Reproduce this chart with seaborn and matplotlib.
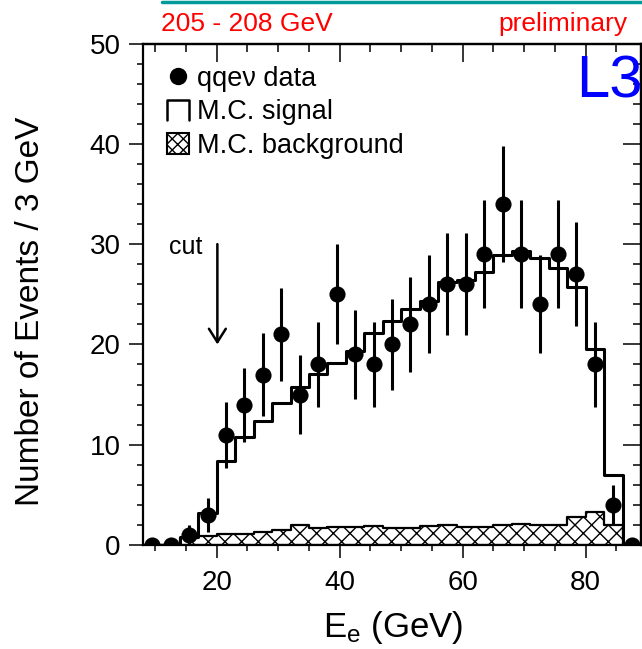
import matplotlib
matplotlib.use("Agg")
import matplotlib.pyplot as plt
import seaborn as sns
import numpy as np
from matplotlib.lines import Line2D
from matplotlib.patches import Patch
from matplotlib.legend_handler import HandlerBase
from matplotlib.ticker import MultipleLocator

# bin edges of the E_e histogram (3 GeV bins)
bin_edges = [8, 11, 14, 17, 20, 23, 26, 29, 32, 35, 38, 41, 44, 47, 50,
             53, 56, 59, 62, 65, 68, 71, 74, 77, 80, 83, 86, 89]
bin_centers = [9.5, 12.5, 15.5, 18.5, 21.5, 24.5, 27.5, 30.5, 33.5, 36.5,
               39.5, 42.5, 45.5, 48.5, 51.5, 54.5, 57.5, 60.5, 63.5, 66.5,
               69.5, 72.5, 75.5, 78.5, 81.5, 84.5, 87.5]

# qqev data counts and their errors
data_counts = [0, 0, 1, 3, 11, 14, 17, 21, 15, 18, 25, 19, 18, 20, 22, 24,
               26, 26, 29, 34, 29, 24, 29, 27, 18, 4, 0]
data_errors = [0, 0, 1.0, 1.7, 3.3, 3.7, 4.1, 4.6, 3.9, 4.2, 5.0, 4.4, 4.2,
               4.5, 4.7, 4.9, 5.1, 5.1, 5.4, 5.8, 5.4, 4.9, 5.4, 5.2, 4.2,
               2.0, 0]

# M.C. signal (total) and M.C. background
mc_signal = [0, 0, 0.8, 3.2, 8.4, 10.8, 12.4, 14.2, 15.8, 17.1, 18.1, 19.3,
             21.1, 22.3, 23.5, 24.3, 26.2, 26.4, 27.2, 28.9, 29.3, 28.6,
             27.6, 25.7, 19.5, 7.0, 0]
mc_background = [0, 0, 0.7, 0.9, 1.1, 1.1, 1.3, 1.5, 2.0, 1.7, 1.8, 1.8,
                 1.9, 1.7, 1.7, 1.9, 2.0, 1.8, 1.8, 2.0, 2.1, 2.0, 2.0, 2.8,
                 3.3, 2.0, 0]


class OpenBoxHandler(HandlerBase):
    """Legend key drawn as a box with no bottom edge (step outline)."""
    def create_artists(self, legend, orig_handle, xdescent, ydescent,
                       width, height, fontsize, trans):
        x0, y0 = -xdescent, -ydescent
        line = Line2D([x0, x0, x0 + width, x0 + width],
                      [y0, y0 + height, y0 + height, y0],
                      color="black", linewidth=1.8, transform=trans)
        return [line]


sns.set_style("ticks")
plt.rcParams["font.family"] = ["Liberation Sans", "DejaVu Sans"]
plt.rcParams["mathtext.default"] = "regular"
plt.rcParams["hatch.linewidth"] = 1.0
plt.rcParams["hatch.color"] = "black"
for key in ["text.color", "axes.labelcolor", "xtick.color", "ytick.color",
            "axes.edgecolor"]:
    plt.rcParams[key] = "black"

fig = plt.figure(figsize=(6.42, 6.49), dpi=100)
ax = fig.add_axes([0.2227, 0.1602, 0.7757, 0.7727])

# background (hatched) and signal (open step) histograms
sns.histplot(x=bin_centers, weights=mc_background, bins=bin_edges,
             element="step", fill=True, facecolor="white", edgecolor="black",
             hatch="xx", linewidth=1.6, ax=ax)
sns.histplot(x=bin_centers, weights=mc_signal, bins=bin_edges,
             element="step", fill=False, color="black", linewidth=2.2, ax=ax)

# data points with error bars
ax.errorbar(bin_centers, data_counts, yerr=data_errors, fmt="none",
            ecolor="black", elinewidth=2.2, capsize=0, zorder=4)
sns.scatterplot(x=bin_centers, y=data_counts, color="black", s=135,
                linewidth=0, zorder=5, ax=ax)

ax.set_xlim(8, 89)
ax.set_ylim(0, 50)
ax.set_xlabel("")
ax.set_ylabel("")

ax.set_xticks([20, 40, 60, 80])
ax.set_yticks([0, 10, 20, 30, 40, 50])
ax.xaxis.set_minor_locator(MultipleLocator(5))
ax.yaxis.set_minor_locator(MultipleLocator(2))
ax.tick_params(axis="x", which="major", direction="out", length=9, width=1.1,
               labelsize=20, pad=9, top=False)
ax.tick_params(axis="x", which="minor", direction="out", length=4, width=1.1,
               top=False)
ax.tick_params(axis="y", which="major", direction="out", length=10, width=1.1,
               labelsize=20, pad=6, right=False)
ax.tick_params(axis="y", which="minor", direction="out", length=4, width=1.1,
               right=False)
for s in ax.spines.values():
    s.set_linewidth(1.6)
    s.set_visible(True)

# inward ticks on top and right
top = ax.secondary_xaxis("top")
top.set_xticks([20, 40, 60, 80])
top.xaxis.set_minor_locator(MultipleLocator(5))
top.tick_params(which="major", direction="in", length=13, width=1.1, labeltop=False)
top.tick_params(which="minor", direction="in", length=6, width=1.1)
top.spines["top"].set_linewidth(1.6)
right = ax.secondary_yaxis("right")
right.set_yticks([0, 10, 20, 30, 40, 50])
right.yaxis.set_minor_locator(MultipleLocator(2))
right.tick_params(which="major", direction="in", length=13, width=1.1, labelright=False)
right.tick_params(which="minor", direction="in", length=6, width=1.1)
right.spines["right"].set_linewidth(1.6)

# cut arrow
ax.annotate("", xy=(20.1, 20.0), xytext=(20.1, 30.0),
            arrowprops=dict(arrowstyle="->, head_length=0.6, head_width=0.38",
                            lw=1.8, color="black", mutation_scale=16,
                            shrinkA=0, shrinkB=0))
ax.text(12.2, 29.0, "cut", fontsize=18, ha="left", va="baseline")

# legend
signal_key = Patch(facecolor="white", edgecolor="black")
handles = [
    Line2D([], [], marker="o", color="black", linestyle="none", markersize=11.5),
    signal_key,
    Patch(facecolor="white", edgecolor="black", hatch="xxx", linewidth=1.5),
]
labels = ["qqe\u03bd data", "M.C. signal", "M.C. background"]
ax.legend(handles, labels, loc="upper left", bbox_to_anchor=(0.048, 0.955),
          frameon=False, fontsize=19.5, handlelength=0.8, handleheight=0.8,
          handletextpad=0.3, labelspacing=0.27, borderpad=0, borderaxespad=0,
          handler_map={signal_key: OpenBoxHandler()})

# axis labels
fig.text(31 / 642, 1 - 311 / 649, "Number of Events / 3 GeV", rotation=90,
         ha="center", va="center", fontsize=24)
fig.text(393 / 642, 1 - 637 / 649, "$E_e$ (GeV)", ha="center",
         va="baseline", fontsize=25)

# header texts
fig.add_artist(Line2D([162 / 642, 1.0], [1 - 1.5 / 649, 1 - 1.5 / 649],
                      color="#009a9a", linewidth=2.5))
fig.text(161 / 642, 1 - 31 / 649, "205 - 208 GeV", color="red", fontsize=19,
         ha="left", va="baseline")
fig.text(627 / 642, 1 - 31 / 649, "preliminary", color="red", fontsize=19,
         ha="right", va="baseline")
fig.text(576 / 642, 1 - 98 / 649, "L3", color="blue", fontsize=43,
         ha="left", va="baseline")

fig.savefig("out.png", dpi=100)
plt.close(fig)
